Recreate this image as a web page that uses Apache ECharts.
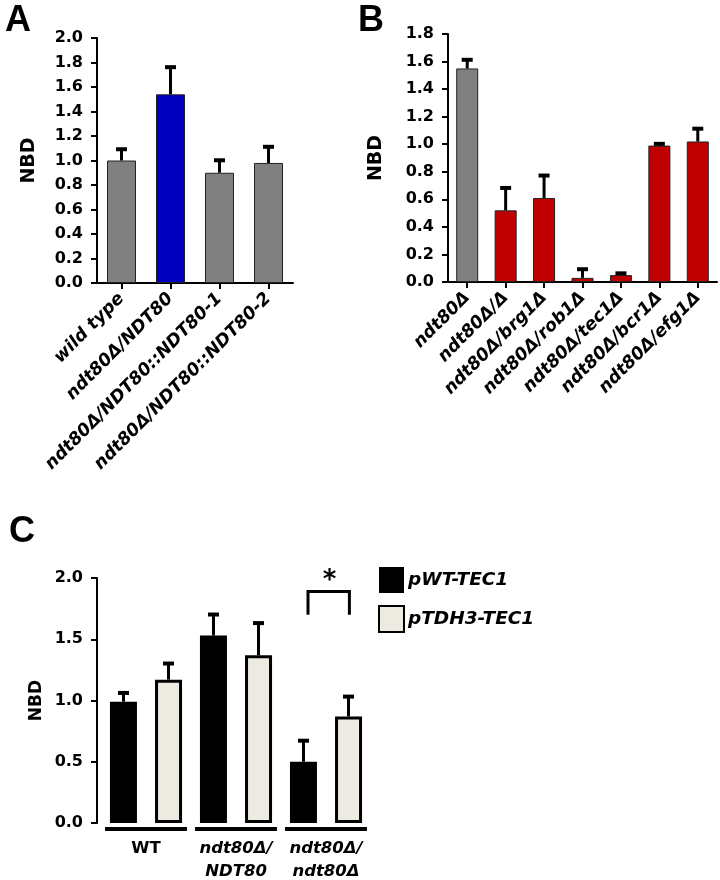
<!DOCTYPE html>
<html>
<head>
<meta charset="utf-8">
<script src="https://cdn.jsdelivr.net/npm/echarts@6/dist/echarts.min.js"></script>
<style>html,body{margin:0;padding:0;background:#fff;}#c{width:720px;height:880px;}</style>
</head>
<body>
<div id="c"></div>
<script>
// ---- Panel A ----
const catsA = ['wild type', 'ndt80Δ/NDT80', 'ndt80Δ/NDT80::NDT80-1', 'ndt80Δ/NDT80::NDT80-2'];
const valsA = [1.00, 1.54, 0.90, 0.98];
const errA  = [0.10, 0.23, 0.11, 0.14];
const colorsA = ['#808080', '#0000C0', '#808080', '#808080'];
const ticksA = [0, 2.0, 0.2];

// ---- Panel B ----
const catsB = ['ndt80Δ', 'ndt80Δ/Δ', 'ndt80Δ/brg1Δ', 'ndt80Δ/rob1Δ', 'ndt80Δ/tec1Δ', 'ndt80Δ/bcr1Δ', 'ndt80Δ/efg1Δ'];
const valsB = [1.55, 0.52, 0.61, 0.03, 0.05, 0.99, 1.02];
const errB  = [0.07, 0.17, 0.17, 0.07, 0.02, 0.02, 0.10];
const colorsB = ['#808080', '#C00000', '#C00000', '#C00000', '#C00000', '#C00000', '#C00000'];
const ticksB = [0, 1.8, 0.2];

// ---- Panel C ----
const catsC = ['WT', 'ndt80Δ/\nNDT80', 'ndt80Δ/\nndt80Δ'];
const seriesC = ['pWT-TEC1', 'pTDH3-TEC1'];
const valsC1 = [0.99, 1.53, 0.50];
const errC1  = [0.08, 0.18, 0.18];
const valsC2 = [1.17, 1.37, 0.87];
const errC2  = [0.14, 0.27, 0.17];
const ticksC = [0, 2.0, 0.5];
// significance bracket: [group index, top value, leg value, star value]
const bracketC = [2, 1.89, 1.70, 1.97];

const FONT = 'DejaVu Sans';

function errRender(offsetFrac) {
  return function (params, api) {
    const i = api.value(0), v = api.value(1), e = api.value(2);
    const band = api.size([1, 0])[0];
    const b = api.coord([i, v]);
    const t = api.coord([i, v + e]);
    const x = b[0] + offsetFrac * band;
    return {
      type: 'group',
      children: [
        {type: 'line', shape: {x1: x, y1: b[1], x2: x, y2: t[1]}, style: {stroke: '#000', lineWidth: 3}},
        {type: 'line', shape: {x1: x - 5.5, y1: t[1] + 1, x2: x + 5.5, y2: t[1] + 1}, style: {stroke: '#000', lineWidth: 4}}
      ]
    };
  };
}

function yAxisDef(gi, t, gap, fs, nameSize, offset) {
  return {
    type: 'value', gridIndex: gi, min: t[0], max: t[1], interval: t[2], offset: offset || 0,
    name: 'NBD', nameLocation: 'middle', nameGap: gap,
    nameTextStyle: {fontFamily: FONT, fontWeight: 'bold', fontSize: nameSize, color: '#000'},
    axisLine: {show: true, lineStyle: {color: '#000', width: 2}},
    axisTick: {show: true, inside: false, length: 6, lineStyle: {color: '#000', width: 2}},
    axisLabel: {fontFamily: FONT, fontWeight: 'bold', fontSize: fs, color: '#000', margin: 14,
      formatter: v => v.toFixed(1)},
    splitLine: {show: false}
  };
}

function xAxisRot(gi, cats) {
  return {
    type: 'category', gridIndex: gi, data: cats,
    axisLine: {show: true, lineStyle: {color: '#000', width: 2}},
    axisTick: {show: true, alignWithLabel: true, length: 6, lineStyle: {color: '#000', width: 2}},
    axisLabel: {rotate: 45, interval: 0, fontFamily: FONT, fontWeight: 'bold', fontStyle: 'italic',
      fontSize: 17.5, color: '#000', margin: 13}
  };
}

const chart = echarts.init(document.getElementById('c'), null, {renderer: 'canvas'});

const option = {
  animation: false,
  backgroundColor: '#fff',
  graphic: [
    {type: 'text', left: 5, top: 3, style: {text: 'A', fontFamily: 'Liberation Sans', fontWeight: 'bold', fontSize: 36, fill: '#000'}},
    {type: 'text', left: 358, top: 3, style: {text: 'B', fontFamily: 'Liberation Sans', fontWeight: 'bold', fontSize: 36, fill: '#000'}},
    {type: 'text', left: 9, top: 514, style: {text: 'C', fontFamily: 'Liberation Sans', fontWeight: 'bold', fontSize: 36, fill: '#000'}}
  ],
  legend: {
    data: seriesC, orient: 'vertical', left: 378, top: 567, padding: 0,
    itemWidth: 25, itemHeight: 26, itemGap: 12, icon: 'rect',
    textStyle: {fontFamily: FONT, fontWeight: 'bold', fontStyle: 'italic', fontSize: 18.5, color: '#000', padding: [0, 0, 0, -1]}
  },
  grid: [
    {left: 97, top: 38, width: 196, height: 245},
    {left: 448, top: 34, width: 269, height: 248},
    {left: 101, top: 578, width: 270, height: 245}
  ],
  xAxis: [
    xAxisRot(0, catsA),
    xAxisRot(1, catsB),
    {
      type: 'category', gridIndex: 2, data: catsC,
      axisLine: {show: false}, axisTick: {show: false},
      axisLabel: {
        interval: 0, margin: 14,
        formatter: v => v === 'WT' ? '{n|WT}' : v.split('\n').map(s => '{i|' + s + '}').join('\n'),
        rich: {
          n: {fontFamily: FONT, fontWeight: 'bold', fontStyle: 'normal', fontSize: 16.5, color: '#000', lineHeight: 23},
          i: {fontFamily: FONT, fontWeight: 'bold', fontStyle: 'italic', fontSize: 16.5, color: '#000', lineHeight: 23}
        }
      }
    }
  ],
  yAxis: [
    yAxisDef(0, ticksA, 58, 16, 19),
    yAxisDef(1, ticksB, 62, 16, 19),
    yAxisDef(2, ticksC, 52, 16, 17, 4)
  ],
  series: [
    {
      type: 'bar', xAxisIndex: 0, yAxisIndex: 0, barWidth: 29,
      data: valsA.map((v, i) => ({value: v, itemStyle: {color: colorsA[i]}})),
      itemStyle: {borderColor: '#222', borderWidth: 1}
    },
    {
      type: 'custom', xAxisIndex: 0, yAxisIndex: 0, renderItem: errRender(0),
      data: valsA.map((v, i) => [i, v, errA[i]]), encode: {x: 0, y: 1}, z: 5
    },
    {
      type: 'bar', xAxisIndex: 1, yAxisIndex: 1, barWidth: 22,
      data: valsB.map((v, i) => ({value: v, itemStyle: {color: colorsB[i]}})),
      itemStyle: {borderColor: '#222', borderWidth: 1}
    },
    {
      type: 'custom', xAxisIndex: 1, yAxisIndex: 1, renderItem: errRender(0),
      data: valsB.map((v, i) => [i, v, errB[i]]), encode: {x: 0, y: 1}, z: 5
    },
    {
      name: seriesC[0], type: 'bar', xAxisIndex: 2, yAxisIndex: 2, barWidth: 27, barGap: '67%',
      data: valsC1, itemStyle: {color: '#000', borderColor: '#000', borderWidth: 0}
    },
    {
      name: seriesC[1], type: 'bar', xAxisIndex: 2, yAxisIndex: 2, barWidth: 27, barGap: '67%',
      data: valsC2, itemStyle: {color: '#EDEBE1', borderColor: '#000', borderWidth: 3}
    },
    {
      type: 'custom', xAxisIndex: 2, yAxisIndex: 2, renderItem: errRender(-0.25),
      data: valsC1.map((v, i) => [i, v, errC1[i]]), encode: {x: 0, y: 1}, z: 5
    },
    {
      type: 'custom', xAxisIndex: 2, yAxisIndex: 2, renderItem: errRender(0.25),
      data: valsC2.map((v, i) => [i, v, errC2[i]]), encode: {x: 0, y: 1}, z: 5
    },
    {
      // group underlines
      type: 'custom', xAxisIndex: 2, yAxisIndex: 2,
      renderItem: function (params, api) {
        const band = api.size([1, 0])[0];
        const p = api.coord([api.value(0), 0]);
        return {type: 'line', shape: {x1: p[0] - 0.455 * band, y1: p[1] + 6, x2: p[0] + 0.455 * band, y2: p[1] + 6},
          style: {stroke: '#000', lineWidth: 4}};
      },
      data: catsC.map((c, i) => [i, 0]), encode: {x: 0, y: 1}, z: 5
    },
    {
      // significance bracket
      type: 'custom', xAxisIndex: 2, yAxisIndex: 2,
      renderItem: function (params, api) {
        const band = api.size([1, 0])[0];
        const i = api.value(0);
        const top = api.coord([i, api.value(1)]);
        const leg = api.coord([i, api.value(2)]);
        const star = api.coord([i, api.value(3)]);
        const x1 = top[0] - 0.2 * band, x2 = top[0] + 0.26 * band;
        return {
          type: 'group',
          children: [
            {type: 'polyline', shape: {points: [[x1, leg[1]], [x1, top[1]], [x2, top[1]], [x2, leg[1]]]},
              style: {stroke: '#000', lineWidth: 3, fill: null}},
            {type: 'text', style: {text: '*', x: top[0] + 0.04 * band, y: star[1], align: 'center', verticalAlign: 'middle',
              fontFamily: FONT, fontWeight: 'bold', fontSize: 26, fill: '#000'}}
          ]
        };
      },
      data: [bracketC], encode: {x: 0, y: 1}, z: 5
    }
  ]
};
chart.setOption(option);
</script>
</body>
</html>
